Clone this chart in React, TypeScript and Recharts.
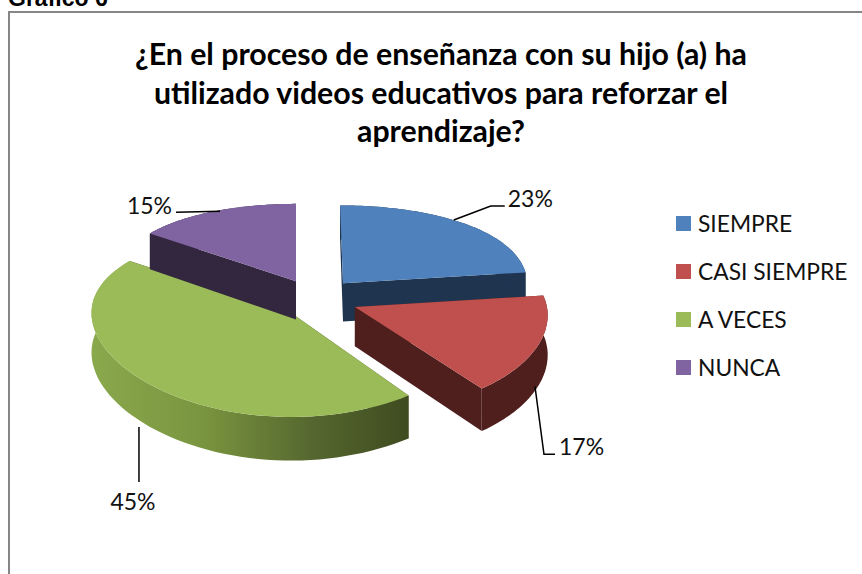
import { Pie, PieChart } from "recharts";

const categories = ["SIEMPRE", "CASI SIEMPRE", "A VECES", "NUNCA"];
const values = [23, 17, 45, 15];
const topColors = ["#4f81bd", "#c0504d", "#9bbb59", "#8064a2"];
const wallColors = ["#1f344f", "#4f1f1e", "#3f4c20", "#33273f"];
const rimColors = ["#1f344f", "#4f1f1e", "url(#greenRim)", "#33273f"];
const titleLines = [
  "¿En el proceso de enseñanza con su hijo (a) ha",
  "utilizado videos educativos para reforzar el",
  "aprendizaje?",
];

const chartData = categories.map((name, i) => ({ name, value: values[i] }));

const FONT = "Lato, 'Open Sans', sans-serif";

// exploded look: each slice pulled away, in disc units (right, towards viewer)
const explode = [
  [0.125, -0.187],
  [0.187, 0.076],
  [-0.145, 0.14],
  [-0.12, -0.21],
];
// perspective fudge per slice
const sizeScale = [0.96, 1.0, 1.04, 0.94];
const skew = [0.015, 0.09, 0, 0];

type Disc = { u: number; v: number };

const toPath = (pts: { x: number; y: number }[]) =>
  "M" + pts.map((p) => `${p.x.toFixed(1)},${p.y.toFixed(1)}`).join("L") + "Z";

const depthAt = (v: number) => 39 + 4 * v;

// fake 3d: tilted disc, front half looks bigger
function projector(cx: number, cy: number, r: number, index: number) {
  const [u0, v0] = explode[index];
  const top = (p: Disc) => {
    const du = (p.u - u0) * sizeScale[index] + skew[index] * (p.v - v0);
    return {
      x: cx + (u0 + du) * r,
      y: cy + r * (0.476 * p.v + 0.0513 * p.v * p.v),
    };
  };
  const low = (p: Disc) => {
    const q = top(p);
    return { x: q.x, y: q.y + depthAt(p.v) };
  };
  return { u0, v0, top, low };
}

const Slice3D = (props: any) => {
  const { cx, cy, outerRadius, startAngle, endAngle, index } = props;
  const { u0, v0, top, low } = projector(cx, cy, outerRadius, index);
  const rim: Disc[] = [];
  const steps = 64;
  for (let i = 0; i <= steps; i++) {
    const a = ((startAngle + ((endAngle - startAngle) * i) / steps) * Math.PI) / 180;
    rim.push({ u: u0 + Math.cos(a), v: v0 - Math.sin(a) });
  }
  const apex = { u: u0, v: v0 };
  const first = rim[0];
  const last = rim[rim.length - 1];
  return (
    <g>
      <path d={toPath([top(apex), top(first), low(first), low(apex)])} fill={wallColors[index]} />
      <path d={toPath([top(apex), top(last), low(last), low(apex)])} fill={wallColors[index]} />
      <path d={toPath([...rim.map(top), ...rim.map(low).reverse()])} fill={rimColors[index]} />
      <path d={toPath([top(apex), ...rim.map(top)])} fill={topColors[index]} />
    </g>
  );
};

// leader line: nudge along the rim point, steps, then where the text sits
const leaders = [
  { nudge: [-9, -3], steps: [[37, -14], [14, 0]], text: [3, -8], anchor: "start", onWall: false },
  { nudge: [-3, 0], steps: [[9, 68], [11, 0]], text: [4, -8], anchor: "start", onWall: true },
  { nudge: [-11, 0], steps: [[0, 55]], text: [-6, 19], anchor: "middle", onWall: true },
  { nudge: [6, 0], steps: [[-44, 1]], text: [-4, -7], anchor: "end", onWall: false },
];

const SliceLabel = (props: any) => {
  const { cx, cy, outerRadius, midAngle, percent, index } = props;
  const { u0, v0, top } = projector(cx, cy, outerRadius, index);
  const a = (midAngle * Math.PI) / 180;
  const p = { u: u0 + Math.cos(a), v: v0 - Math.sin(a) };
  const rimPt = top(p);
  const lead = leaders[index];
  let x = rimPt.x + lead.nudge[0];
  let y = rimPt.y + lead.nudge[1] + (lead.onWall ? depthAt(p.v) : 0);
  const pts = [`${x},${y}`];
  lead.steps.forEach(([dx, dy]) => {
    x += dx;
    y += dy;
    pts.push(`${x},${y}`);
  });
  return (
    <g>
      <polyline points={pts.join(" ")} fill="none" stroke="#000" strokeWidth={1.5} />
      <text
        x={x + lead.text[0]}
        y={y + lead.text[1]}
        textAnchor={lead.anchor as any}
        dominantBaseline="central"
        fontFamily={FONT}
        fontSize={23}
        fill="#111"
      >
        {`${Math.round(percent * 100)}%`}
      </text>
    </g>
  );
};

function App() {
  return (
    <div
      style={{
        position: "absolute",
        left: 0,
        top: 0,
        width: 862,
        height: 574,
        overflow: "hidden",
        background: "#fff",
      }}
    >
      <div
        style={{
          position: "absolute",
          left: 8,
          top: -15,
          fontFamily: "'Liberation Sans', Arial, sans-serif",
          fontWeight: 700,
          fontSize: 23,
          lineHeight: "26px",
          color: "#000",
        }}
      >
        Gráfico 6
      </div>
      <div
        style={{
          position: "absolute",
          left: 8,
          top: 11,
          width: 900,
          height: 600,
          borderTop: "2px solid #868686",
          borderLeft: "2px solid #868686",
        }}
      />
      <div
        style={{
          position: "absolute",
          left: 8,
          width: 866,
          top: 34,
          textAlign: "center",
          fontFamily: FONT,
          fontWeight: 700,
          fontSize: 30.3,
          lineHeight: "38.5px",
          color: "#000",
        }}
      >
        {titleLines.map((line) => (
          <div key={line}>{line}</div>
        ))}
      </div>
      <div style={{ position: "absolute", left: 0, top: 0 }}>
        <PieChart width={862} height={574} margin={{ top: 0, right: 0, bottom: 0, left: 0 }}>
          <defs>
            <linearGradient id="greenRim" gradientUnits="userSpaceOnUse" x1={92} y1={0} x2={407} y2={0}>
              <stop offset="0%" stopColor="#8aa84c" />
              <stop offset="35%" stopColor="#7a953f" />
              <stop offset="70%" stopColor="#55672f" />
              <stop offset="100%" stopColor="#3f4c20" />
            </linearGradient>
          </defs>
          <Pie
            data={chartData}
            dataKey="value"
            nameKey="name"
            cx={319}
            cy={300}
            outerRadius={192}
            startAngle={90}
            endAngle={-270}
            stroke="none"
            shape={Slice3D}
            label={SliceLabel}
            labelLine={false}
            isAnimationActive={false}
          />
        </PieChart>
      </div>
      <div style={{ position: "absolute", left: 676, top: 199 }}>
        {categories.map((name, i) => (
          <div key={name} style={{ display: "flex", alignItems: "center", height: 48 }}>
            <span style={{ width: 15, height: 15, background: topColors[i], marginRight: 7 }} />
            <span style={{ fontFamily: FONT, fontSize: 22.8, color: "#111", whiteSpace: "nowrap" }}>{name}</span>
          </div>
        ))}
      </div>
    </div>
  );
}

export default App;
